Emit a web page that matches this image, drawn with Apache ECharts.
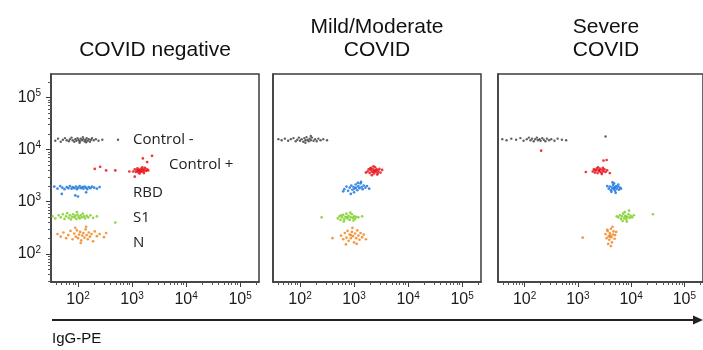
<!DOCTYPE html>
<html>
<head>
<meta charset="utf-8">
<script src="https://cdn.jsdelivr.net/npm/echarts@6/dist/echarts.min.js"></script>
<style>html,body{margin:0;padding:0;background:#fff}#c{width:703px;height:350px}</style>
</head>
<body>
<div id="c"></div>
<script>
// ---- data (log10 units of fluorescence) ----
const panelTitles = [['COVID negative'], ['Mild/Moderate', 'COVID'], ['Severe', 'COVID']];
const antigenNames = ['Control -', 'Control +', 'RBD', 'S1', 'N'];
const xTickLabels = [2, 3, 4, 5];   // 10^2 .. 10^5
const yTickLabels = [2, 3, 4, 5];
const axisTitle = 'IgG-PE';

// Panel 1 : COVID negative
const neg1 = [[1.58,4.17],[1.63,4.21],[1.68,4.15],[1.72,4.19],[1.76,4.22],[1.79,4.18],[1.83,4.16],[1.85,4.2],[1.88,4.23],[1.9,4.18],[1.93,4.15],[1.95,4.2],[1.97,4.17],[1.99,4.22],[2.01,4.19],[2.03,4.16],[2.05,4.21],[2.07,4.18],[2.09,4.24],[2.1,4.2],[2.12,4.16],[2.14,4.19],[2.16,4.22],[2.18,4.17],[2.2,4.2],[2.22,4.15],[2.24,4.19],[2.26,4.22],[2.29,4.18],[2.33,4.2],[2.38,4.17],[2.45,4.19],[2.74,4.19],[2.03,4.13],[2.15,4.14]];
const pos1 = [[3.02,3.58],[3.05,3.62],[3.07,3.57],[3.09,3.6],[3.1,3.64],[3.12,3.56],[3.13,3.61],[3.15,3.59],[3.16,3.63],[3.17,3.57],[3.18,3.6],[3.2,3.62],[3.21,3.58],[3.23,3.61],[3.24,3.65],[3.26,3.59],[3.28,3.62],[3.14,3.54],[3.19,3.66],[3.11,3.59],[3.22,3.55],[3.3,3.6],[2.31,3.63],[2.41,3.67],[2.52,3.6],[2.69,3.6],[3.2,3.83],[3.37,3.88],[3.28,3.76],[3.05,3.48],[2.95,3.58]];
const rbd1 = [[1.56,3.29],[1.62,3.25],[1.67,3.3],[1.71,3.27],[1.75,3.24],[1.79,3.28],[1.82,3.26],[1.85,3.3],[1.88,3.25],[1.9,3.28],[1.93,3.26],[1.96,3.29],[1.98,3.24],[2.0,3.27],[2.03,3.3],[2.05,3.26],[2.08,3.28],[2.1,3.25],[2.12,3.29],[2.15,3.27],[2.17,3.24],[2.2,3.28],[2.23,3.26],[2.26,3.29],[2.3,3.27],[2.35,3.25],[2.4,3.28],[1.95,3.12],[2.0,3.1],[1.7,3.15],[2.15,3.18]];
const s1a = [[1.53,2.72],[1.58,2.68],[1.64,2.74],[1.68,2.7],[1.72,2.76],[1.75,2.67],[1.78,2.72],[1.8,2.78],[1.83,2.69],[1.85,2.74],[1.87,2.66],[1.89,2.71],[1.91,2.76],[1.93,2.7],[1.95,2.73],[1.97,2.67],[1.99,2.75],[2.01,2.71],[2.03,2.68],[2.05,2.74],[2.07,2.7],[2.09,2.77],[2.11,2.72],[2.13,2.68],[2.16,2.73],[2.19,2.7],[2.23,2.74],[2.28,2.69],[2.35,2.72],[2.69,2.6],[1.98,2.8]];
const n1 = [[1.62,2.38],[1.68,2.33],[1.73,2.41],[1.78,2.3],[1.82,2.36],[1.86,2.44],[1.9,2.28],[1.93,2.39],[1.96,2.33],[1.98,2.45],[2.0,2.3],[2.02,2.37],[2.04,2.42],[2.06,2.26],[2.08,2.35],[2.1,2.4],[2.12,2.31],[2.14,2.47],[2.16,2.36],[2.18,2.28],[2.2,2.41],[2.22,2.33],[2.25,2.38],[2.28,2.24],[2.31,2.43],[2.35,2.34],[2.4,2.38],[2.48,2.32],[2.52,2.4],[2.05,2.21],[1.95,2.5],[2.15,2.52]];

// Panel 2 : Mild/Moderate COVID
const neg2 = [[1.6,4.2],[1.66,4.18],[1.72,4.21],[1.78,4.17],[1.83,4.2],[1.88,4.22],[1.92,4.16],[1.95,4.19],[1.98,4.23],[2.0,4.17],[2.03,4.2],[2.06,4.15],[2.08,4.22],[2.1,4.18],[2.12,4.24],[2.14,4.19],[2.16,4.16],[2.18,4.21],[2.2,4.18],[2.22,4.23],[2.25,4.17],[2.28,4.2],[2.31,4.16],[2.34,4.21],[2.38,4.18],[2.43,4.2],[2.5,4.18],[2.1,4.13],[2.2,4.26]];
const pos2 = [[3.25,3.58],[3.27,3.62],[3.29,3.55],[3.31,3.6],[3.32,3.65],[3.34,3.57],[3.35,3.62],[3.37,3.54],[3.38,3.6],[3.39,3.66],[3.4,3.57],[3.42,3.62],[3.43,3.52],[3.45,3.59],[3.47,3.63],[3.49,3.56],[3.36,3.68],[3.33,3.51],[3.41,3.6],[3.36,3.58],[3.3,3.64],[3.44,3.55],[3.52,3.61],[3.22,3.56]];
const rbd2 = [[2.82,3.24],[2.86,3.29],[2.89,3.21],[2.92,3.27],[2.95,3.31],[2.97,3.23],[2.99,3.28],[3.01,3.25],[3.03,3.33],[3.04,3.27],[3.06,3.22],[3.08,3.3],[3.1,3.26],[3.12,3.35],[3.14,3.28],[3.16,3.24],[3.18,3.31],[3.21,3.27],[3.24,3.3],[3.0,3.18],[2.94,3.15],[3.07,3.36],[3.13,3.38],[2.8,3.2],[3.28,3.25]];
const s1b = [[2.7,2.68],[2.73,2.72],[2.75,2.65],[2.78,2.7],[2.8,2.75],[2.82,2.66],[2.84,2.71],[2.86,2.77],[2.88,2.68],[2.9,2.73],[2.92,2.65],[2.94,2.7],[2.96,2.76],[2.98,2.69],[3.0,2.72],[3.02,2.67],[3.04,2.71],[2.81,2.62],[2.93,2.79],[2.87,2.7],[2.76,2.74],[2.99,2.64],[3.08,2.7],[2.4,2.7],[3.15,2.72]];
const n2 = [[2.76,2.35],[2.8,2.28],[2.83,2.4],[2.86,2.31],[2.88,2.44],[2.9,2.25],[2.92,2.37],[2.94,2.3],[2.96,2.42],[2.98,2.34],[3.0,2.22],[3.02,2.39],[3.04,2.3],[3.06,2.45],[3.08,2.35],[3.1,2.27],[3.12,2.4],[3.15,2.32],[3.18,2.37],[2.85,2.18],[2.97,2.5],[3.05,2.19],[2.94,2.36],[2.6,2.3],[3.22,2.28]];

// Panel 3 : Severe COVID
const neg3 = [[1.58,4.2],[1.66,4.18],[1.75,4.21],[1.84,4.19],[1.92,4.22],[1.98,4.17],[2.04,4.2],[2.08,4.23],[2.11,4.18],[2.14,4.21],[2.17,4.16],[2.2,4.2],[2.23,4.23],[2.25,4.18],[2.28,4.2],[2.3,4.17],[2.33,4.22],[2.36,4.19],[2.39,4.16],[2.42,4.21],[2.46,4.18],[2.5,4.2],[2.56,4.17],[2.62,4.21],[2.7,4.19],[2.78,4.18],[3.52,4.25]];
const pos3 = [[3.28,3.58],[3.3,3.62],[3.32,3.56],[3.34,3.6],[3.36,3.64],[3.37,3.55],[3.39,3.6],[3.41,3.58],[3.42,3.63],[3.44,3.56],[3.46,3.61],[3.48,3.58],[3.5,3.62],[3.52,3.57],[3.55,3.6],[3.38,3.66],[3.45,3.53],[3.4,3.6],[3.33,3.61],[3.47,3.65],[3.54,3.8],[3.48,3.79],[3.15,3.57],[2.31,3.98],[3.6,3.55]];
const rbd3 = [[3.58,3.25],[3.6,3.29],[3.62,3.22],[3.64,3.27],[3.66,3.32],[3.67,3.24],[3.69,3.28],[3.7,3.21],[3.72,3.3],[3.73,3.25],[3.75,3.29],[3.77,3.23],[3.79,3.27],[3.68,3.35],[3.71,3.17],[3.63,3.19],[3.76,3.33],[3.69,3.26],[3.81,3.25],[3.55,3.3],[3.65,3.37]];
const s1c = [[3.76,2.7],[3.79,2.74],[3.81,2.67],[3.83,2.72],[3.85,2.77],[3.87,2.68],[3.89,2.73],[3.91,2.66],[3.93,2.71],[3.95,2.76],[3.97,2.69],[3.99,2.73],[4.02,2.7],[3.88,2.8],[3.84,2.63],[3.92,2.62],[3.9,2.71],[4.05,2.74],[3.73,2.72],[4.41,2.76],[3.96,2.83]];
const n3 = [[3.52,2.38],[3.54,2.3],[3.56,2.44],[3.58,2.34],[3.59,2.27],[3.6,2.4],[3.62,2.48],[3.63,2.32],[3.64,2.22],[3.66,2.37],[3.67,2.43],[3.69,2.29],[3.61,2.36],[3.57,2.19],[3.65,2.52],[3.7,2.36],[3.55,2.46],[3.62,2.15],[3.72,2.42],[3.09,2.31],[3.6,2.33]];

const panelData = [
  [neg1, pos1, rbd1, s1a, n1],
  [neg2, pos2, rbd2, s1b, n2],
  [neg3, pos3, rbd3, s1c, n3]
];
const colors = ['#444444', '#e8141c', '#1f78e0', '#7fd02a', '#f08a24'];

// ---- layout ----
const X_MIN = 1.5, X_MAX = 5.35, Y_MIN = 1.46, Y_MAX = 5.45;
const gridLefts = [51, 273, 498];
const GRID_TOP = 74, GRID_W = 208, GRID_H = 208;
const titleCenters = [155, 377, 606];
const frameColor = '#3c3c3c';

function minorTicks(lo, hi) {
  const out = [];
  for (let d = 1; d <= 5; d++) for (let k = 2; k <= 9; k++) {
    const v = d + Math.log10(k);
    if (v >= lo && v <= hi) out.push(v);
  }
  return out;
}
const supFmt = v => '{b|10}{s|' + Math.round(v) + '}';
const richLab = {
  b: { fontSize: 16, fontFamily: 'Liberation Sans', color: '#1a1a1a' },
  s: { fontSize: 10, fontFamily: 'Liberation Sans', color: '#1a1a1a', padding: [0, 0, 8, 0] }
};

const grids = [], xAxes = [], yAxes = [], series = [];
for (let p = 0; p < 3; p++) {
  grids.push({ left: gridLefts[p], top: GRID_TOP, width: GRID_W, height: GRID_H,
    show: true, borderColor: frameColor, borderWidth: 1.5, backgroundColor: 'transparent' });
}
// main axes (0..2)
for (let p = 0; p < 3; p++) {
  xAxes.push({ type: 'value', gridIndex: p, position: 'bottom', min: X_MIN, max: X_MAX,
    axisLine: { show: true, lineStyle: { color: frameColor, width: 1.5 } },
    axisTick: { show: true, length: 5, inside: false, customValues: xTickLabels, lineStyle: { color: frameColor } },
    axisLabel: { show: true, customValues: xTickLabels, formatter: supFmt, rich: richLab, margin: 9 },
    splitLine: { show: false } });
  yAxes.push({ type: 'value', gridIndex: p, position: 'left', min: Y_MIN, max: Y_MAX,
    axisLine: { show: true, lineStyle: { color: frameColor, width: 1.5 } },
    axisTick: { show: p === 0, length: 5, inside: false, customValues: yTickLabels, lineStyle: { color: frameColor } },
    axisLabel: { show: p === 0, customValues: yTickLabels, formatter: supFmt, rich: richLab, margin: 10 },
    splitLine: { show: false } });
}
// minor tick axes (3..5)
for (let p = 0; p < 3; p++) {
  xAxes.push({ type: 'value', gridIndex: p, position: 'bottom', offset: 0, min: X_MIN, max: X_MAX,
    axisLine: { show: false }, axisLabel: { show: false }, splitLine: { show: false },
    axisTick: { show: true, length: 3, customValues: minorTicks(X_MIN, X_MAX), lineStyle: { color: '#555' } } });
  yAxes.push({ type: 'value', gridIndex: p, position: 'left', offset: 0, min: Y_MIN, max: Y_MAX,
    axisLine: { show: false }, axisLabel: { show: false }, splitLine: { show: false },
    axisTick: { show: p === 0, length: 3, customValues: minorTicks(Y_MIN, Y_MAX), lineStyle: { color: '#555' } } });
}
for (let p = 0; p < 3; p++) {
  panelData[p].forEach((d, i) => {
    series.push({ type: 'scatter', name: antigenNames[i], xAxisIndex: p, yAxisIndex: p,
      data: d, symbol: 'circle', symbolSize: i === 0 ? 2.4 : 2.7, silent: true,
      itemStyle: { color: colors[i], opacity: 0.85 } });
  });
}

const graphics = [];
panelTitles.forEach((lines, p) => {
  lines.forEach((t, j) => {
    const y = lines.length === 1 ? 50 : (j === 0 ? 27 : 50);
    graphics.push({ type: 'text', x: titleCenters[p], y: y,
      style: { text: t, fill: '#111', font: '21px "Liberation Sans", Arial, sans-serif', align: 'center', verticalAlign: 'middle' } });
  });
});
const labelPos = [[133, 140], [169, 165], [133, 193], [133, 218], [133, 243]];
antigenNames.forEach((t, i) => {
  graphics.push({ type: 'text', x: labelPos[i][0], y: labelPos[i][1],
    style: { text: t, fill: '#222', font: '15px "Open Sans", sans-serif', align: 'left', verticalAlign: 'middle' } });
});
graphics.push({ type: 'line', shape: { x1: 52, y1: 320, x2: 694, y2: 320 }, style: { stroke: '#222', lineWidth: 2 } });
graphics.push({ type: 'polygon', shape: { points: [[693, 315.5], [703, 320], [693, 324.5]] }, style: { fill: '#222' } });
graphics.push({ type: 'text', x: 52, y: 339,
  style: { text: axisTitle, fill: '#111', font: '15px "Liberation Sans", Arial, sans-serif', align: 'left', verticalAlign: 'middle' } });

const chart = echarts.init(document.getElementById('c'), null, { renderer: 'canvas' });
chart.setOption({
  animation: false,
  grid: grids, xAxis: xAxes, yAxis: yAxes, series: series, graphic: graphics
});
</script>
</body>
</html>
